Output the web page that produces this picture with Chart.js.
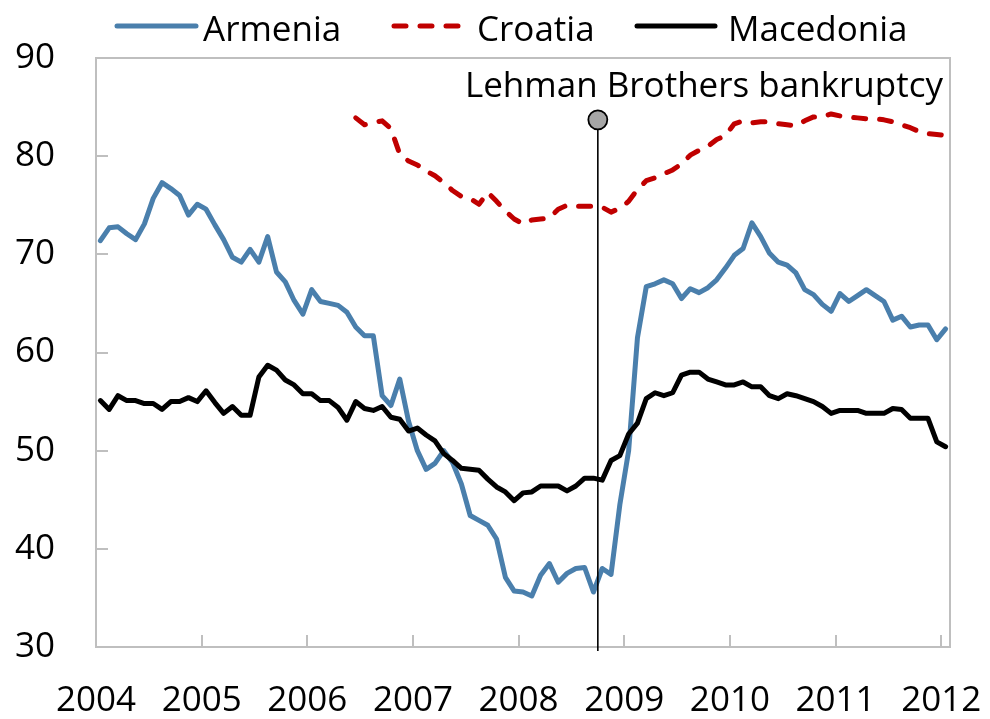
<!DOCTYPE html>
<html>
<head>
<meta charset="utf-8">
<script src="https://cdn.jsdelivr.net/npm/chart.js@4.4.1/dist/chart.umd.min.js"></script>
<style>
html,body{margin:0;padding:0;background:#ffffff;}
#wrap{width:990px;height:719px;position:relative;}
</style>
</head>
<body>
<div id="wrap"><canvas id="chart" width="990" height="719"></canvas></div>
<script>
// ---- Data (monthly, Jan 2004 .. Jan 2012) ----
const START_YEAR = 2004;
const MONTH_COUNT = 97;
const YEAR_TICKS = [2004, 2005, 2006, 2007, 2008, 2009, 2010, 2011, 2012];
const Y_TICKS = [30, 40, 50, 60, 70, 80, 90];

const ARMENIA = [
  71.4, 72.7, 72.8, 72.1, 71.5, 73.1, 75.7, 77.3, 76.7, 76.0, 74.0, 75.1,
  74.6, 73.0, 71.5, 69.7, 69.2, 70.5, 69.2, 71.8, 68.2, 67.2, 65.3, 63.9,
  66.4, 65.2, 65.0, 64.8, 64.1, 62.6, 61.7, 61.7, 55.6, 54.6, 57.3, 53.0,
  50.0, 48.1, 48.7, 50.0, 48.8, 46.6, 43.4, 42.9, 42.4, 41.0, 37.1, 35.7,
  35.6, 35.2, 37.3, 38.5, 36.6, 37.5, 38.0, 38.1, 35.6, 38.0, 37.4, 44.5,
  50.0, 61.5, 66.7, 67.0, 67.4, 67.0, 65.5, 66.5, 66.1, 66.6, 67.4, 68.6,
  69.9, 70.6, 73.2, 71.8, 70.1, 69.2, 68.9, 68.1, 66.4, 65.9, 64.9, 64.2,
  66.0, 65.2, 65.8, 66.4, 65.8, 65.2, 63.3, 63.7, 62.6, 62.8, 62.8, 61.3,
  62.4
];

const CROATIA = [
  null, null, null, null, null, null, null, null, null, null, null, null,
  null, null, null, null, null, null, null, null, null, null, null, null,
  null, null, null, null, null, 83.9, 83.2, 83.4, 83.6, 82.8, 80.2, 79.5,
  79.1, 78.5, 78.0, 77.3, 76.5, 75.9, 75.7, 75.1, 76.3, 75.4, 74.4, 73.6,
  73.1, 73.5, 73.6, 73.7, 74.6, 75.0, 74.9, 74.9, 74.9, 74.8, 74.3, 74.7,
  75.4, 76.6, 77.5, 77.8, 78.2, 78.6, 79.2, 80.1, 80.6, 81.0, 81.7, 82.1,
  83.3, 83.6, 83.4, 83.5, 83.5, 83.3, 83.2, 83.1, 83.6, 84.0, 84.0, 84.3,
  84.1, 84.0, 83.9, 83.8, 83.8, 83.7, 83.5, 83.2, 82.9, 82.5, 82.3, 82.2,
  82.1
];

const MACEDONIA = [
  55.1, 54.2, 55.6, 55.1, 55.1, 54.8, 54.8, 54.2, 55.0, 55.0, 55.4, 55.0,
  56.1, 54.9, 53.8, 54.5, 53.6, 53.6, 57.5, 58.7, 58.2, 57.2, 56.7, 55.8,
  55.8, 55.1, 55.1, 54.4, 53.1, 55.0, 54.3, 54.1, 54.5, 53.4, 53.2, 52.0,
  52.3, 51.6, 51.0, 49.7, 49.0, 48.2, 48.1, 48.0, 47.1, 46.3, 45.8, 44.9,
  45.7, 45.8, 46.4, 46.4, 46.4, 45.9, 46.4, 47.2, 47.2, 47.0, 49.0, 49.5,
  51.7, 52.8, 55.3, 55.9, 55.6, 55.9, 57.7, 58.0, 58.0, 57.3, 57.0, 56.7,
  56.7, 57.0, 56.5, 56.5, 55.6, 55.3, 55.8, 55.6, 55.3, 55.0, 54.5, 53.8,
  54.1, 54.1, 54.1, 53.8, 53.8, 53.8, 54.3, 54.2, 53.3, 53.3, 53.3, 50.9,
  50.4
];

const SERIES_NAMES = ['Armenia', 'Croatia', 'Macedonia'];
const LEHMAN_DATE = 2008.75;      // event position on time axis (decimal year)
const LEHMAN_LEVEL = 83.7;        // marker height on value axis
const LEHMAN_BASE = 29.6;         // line runs just below the axis
const LEHMAN_LABEL = 'Lehman Brothers bankruptcy';

// ---- Styles ----
const FONT = '"Open Sans", "Noto Sans", sans-serif';
const FONT_SIZE = 35;
const BLUE = '#4A7FAC';
const RED = '#C00000';
const BLACK = '#000000';
const FRAME = '#BFBFBF';
const DASH = [12, 14];

function monthX(i) { return START_YEAR + (i + 0.5) / 12; }
function toPoints(arr) { return arr.map((v, i) => ({ x: monthX(i), y: v })); }

const frameAndTicks = {
  id: 'frameAndTicks',
  beforeDatasetsDraw(chart) {
    const { ctx, chartArea: a, scales: { x, y } } = chart;
    ctx.save();
    ctx.strokeStyle = FRAME;
    ctx.lineWidth = 2;
    ctx.strokeRect(a.left, a.top, a.right - a.left, a.bottom - a.top);
    ctx.beginPath();
    Y_TICKS.forEach(v => {
      const py = Math.round(y.getPixelForValue(v));
      ctx.moveTo(a.left, py); ctx.lineTo(a.left + 12, py);
    });
    YEAR_TICKS.slice(1).forEach(v => {
      const px = Math.round(x.getPixelForValue(v));
      ctx.moveTo(px, a.bottom); ctx.lineTo(px, a.bottom - 12);
    });
    ctx.stroke();
    ctx.restore();
  },
  afterDraw(chart) {
    const { ctx, chartArea: a } = chart;
    ctx.save();
    // Lehman label
    ctx.font = FONT_SIZE + 'px ' + FONT;
    ctx.fillStyle = '#000';
    ctx.textAlign = 'right';
    ctx.textBaseline = 'alphabetic';
    ctx.fillText(LEHMAN_LABEL, a.right - 7, 97);
    // Legend
    const items = [
      { name: SERIES_NAMES[0], color: BLUE, dash: [], x1: 117, x2: 196, tx: 203 },
      { name: SERIES_NAMES[1], color: RED, dash: DASH, x1: 394, x2: 460, tx: 477 },
      { name: SERIES_NAMES[2], color: BLACK, dash: [], x1: 637, x2: 715, tx: 728 }
    ];
    items.forEach(it => {
      ctx.beginPath();
      ctx.setLineDash(it.dash);
      ctx.strokeStyle = it.color;
      ctx.lineWidth = 5;
      ctx.lineCap = 'round';
      ctx.moveTo(it.x1, 26); ctx.lineTo(it.x2, 26);
      ctx.stroke();
      ctx.setLineDash([]);
      ctx.textAlign = 'left';
      ctx.fillText(it.name, it.tx, 41);
    });
    ctx.restore();
  }
};

Chart.defaults.font.family = FONT;
Chart.defaults.color = '#000';

new Chart(document.getElementById('chart'), {
  type: 'line',
  data: {
    datasets: [
      {
        label: 'Lehman', data: [{ x: LEHMAN_DATE, y: LEHMAN_BASE }, { x: LEHMAN_DATE, y: LEHMAN_LEVEL }],
        borderColor: BLACK, borderWidth: 1.6, pointRadius: [0, 9.5],
        pointBackgroundColor: '#A6A6A6', pointBorderColor: BLACK, pointBorderWidth: 1.8,
        clip: false, order: 0, tension: 0
      },
      {
        label: SERIES_NAMES[2], data: toPoints(MACEDONIA), borderColor: BLACK, borderWidth: 5,
        pointRadius: 0, order: 1, borderJoinStyle: 'round', borderCapStyle: 'round', tension: 0
      },
      {
        label: SERIES_NAMES[1], data: toPoints(CROATIA), borderColor: RED, borderWidth: 5,
        borderDash: DASH, pointRadius: 0, order: 2, borderJoinStyle: 'round', borderCapStyle: 'round',
        spanGaps: false, tension: 0
      },
      {
        label: SERIES_NAMES[0], data: toPoints(ARMENIA), borderColor: BLUE, borderWidth: 5,
        pointRadius: 0, order: 3, borderJoinStyle: 'round', borderCapStyle: 'round', tension: 0
      }
    ]
  },
  options: {
    responsive: false,
    animation: false,
    devicePixelRatio: 1,
    layout: { padding: { left: 0, right: 40, top: 58, bottom: 0 } },
    plugins: { legend: { display: false }, tooltip: { enabled: false } },
    scales: {
      x: {
        type: 'linear',
        min: START_YEAR,
        max: START_YEAR + MONTH_COUNT / 12,
        afterBuildTicks: s => { s.ticks = YEAR_TICKS.map(v => ({ value: v })); },
        afterFit: s => { s.height = 72; s.paddingLeft = 0; s.paddingRight = 0; },
        grid: { display: false, drawTicks: false },
        border: { display: false },
        ticks: {
          callback: v => String(v), autoSkip: false, maxRotation: 0,
          font: { size: FONT_SIZE }, color: '#000', padding: 33
        }
      },
      y: {
        min: 30, max: 90,
        afterBuildTicks: s => { s.ticks = Y_TICKS.map(v => ({ value: v })); },
        afterFit: s => { s.width = 96; s.paddingTop = 0; s.paddingBottom = 0; },
        grid: { display: false, drawTicks: false },
        border: { display: false },
        ticks: { font: { size: FONT_SIZE }, color: '#000', padding: 41 }
      }
    }
  },
  plugins: [frameAndTicks]
});
</script>
</body>
</html>
